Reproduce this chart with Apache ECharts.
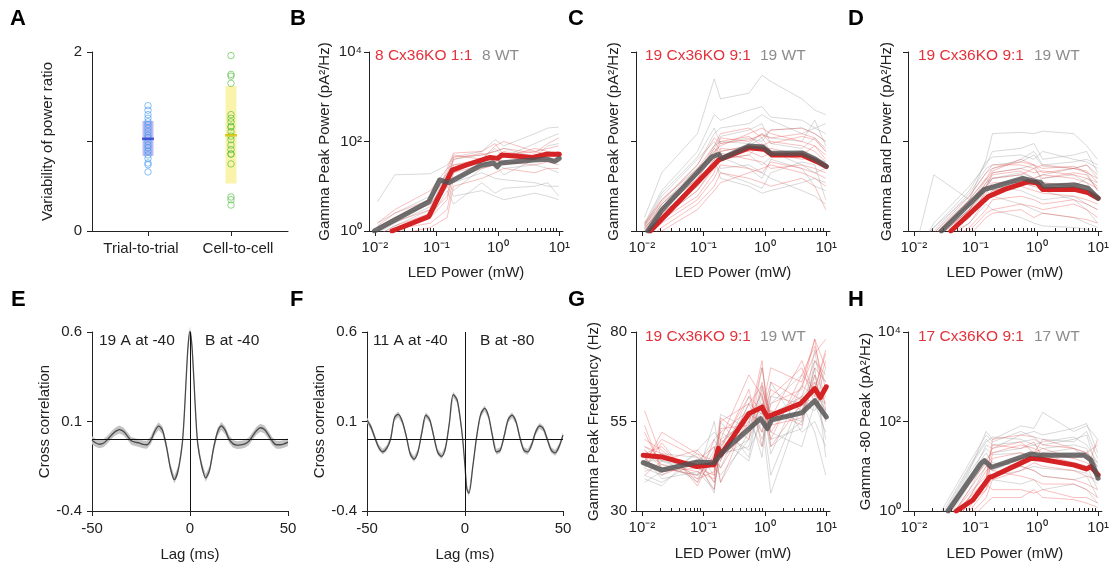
<!DOCTYPE html>
<html><head><meta charset="utf-8">
<script src="https://cdn.jsdelivr.net/npm/echarts@6/dist/echarts.min.js"></script>
<style>html,body{margin:0;padding:0;background:#fff}#c{width:1112px;height:567px}</style>
</head><body><div id="c"></div>
<script>
// ---------------- DATA ----------------
// Panel A
const aCats = ['Trial-to-trial', 'Cell-to-cell'];
const aTrial = [1.40,1.35,1.30,1.26,1.22,1.19,1.15,1.11,1.07,1.04,1.00,0.96,0.93,0.89,0.85,0.81,0.76,0.74,0.66];
const aCell = [1.96,1.75,1.73,1.65,1.30,1.26,1.22,1.17,1.16,1.11,1.06,1.02,0.96,0.91,0.86,0.86,0.75,0.38,0.35,0.29];
const aTrialBar = [0.84, 1.23];
const aTrialMean = 1.03;
const aCellBar = [0.53, 1.62];
const aCellMean = 1.07;
const aYTicks = [0, 1, 2];
const aYLabels = [0, 2];

// Common LED power grid for individual cells
const indivX = [0.011, 0.021, 0.08, 0.15, 0.19, 0.55, 0.9, 1.25, 4, 6.5, 9.8];
const xMajor = [0.01, 0.1, 1, 10];
const xMinor = [0.02,0.03,0.04,0.05,0.06,0.07,0.08,0.09,0.2,0.3,0.4,0.5,0.6,0.7,0.8,0.9,2,3,4,5,6,7,8,9];
const logYTicks = [1, 100, 10000];

// Panel B
const bWT = [
  [4.5, 18, 19, 30, 45, 60, 110, 80, 150, 200, 210],
  [1.5, 2.5, 6, 15, 20, 40, 70, 45, 90, 120, 150],
  [1.0, 1.8, 4, 12, 8, 25, 30, 18, 40, 60, 55],
  [0.8, 1.3, 3, 25, 30, 35, 40, 25, 30, 25, 20],
  [0.6, 1.0, 2, 8, 4, 12, 7, 9, 10, 12, 6],
  [1.2, 2, 5, 20, 12, 20, 15, 14, 12, 10, 10],
  [0.9, 1.5, 3.5, 18, 40, 50, 60, 70, 45, 80, 90],
  [0.5, 0.8, 2.5, 10, 6, 8, 6, 5, 7, 6, 5]
];
const bKO = [
  [1.5, 3, 8, 25, 55, 60, 90, 50, 60, 50, 45],
  [1.2, 2, 4, 12, 45, 50, 60, 70, 55, 90, 120],
  [0.8, 1.3, 2.5, 6, 30, 40, 45, 30, 40, 40, 35],
  [1.0, 1.6, 3, 10, 40, 55, 35, 45, 70, 60, 50],
  [0.6, 1.0, 2, 5, 20, 30, 40, 60, 45, 50, 60],
  [0.7, 1.1, 1.5, 3, 15, 25, 30, 35, 30, 35, 30],
  [1.3, 2.5, 5, 20, 50, 40, 80, 100, 60, 70, 80],
  [0.5, 0.8, 1.2, 2, 10, 15, 20, 25, 20, 25, 25]
];
const bWTMeanX = [0.0098, 0.075, 0.113, 0.158, 0.52, 0.85, 0.98, 1.1, 3.8, 6.5, 8.4, 10];
const bWTMeanY = [1.0, 4.5, 13.8, 12, 29, 33, 27.3, 33, 38.6, 40, 36, 42];
const bKOMeanX = [0.019, 0.075, 0.18, 0.31, 0.75, 1.0, 1.16, 3.7, 6.2, 10];
const bKOMeanY = [1.0, 2.1, 23, 30, 44, 42, 50, 44, 52, 52];

// Panel C
const cWT = [
  [2, 20, 150, 2500, 900, 1200, 3000, 2200, 900, 500, 400],
  [1.5, 8, 60, 400, 300, 500, 600, 350, 300, 200, 150],
  [1.2, 5, 30, 150, 200, 250, 400, 300, 150, 200, 250],
  [0.8, 3, 20, 80, 100, 90, 150, 120, 100, 300, 80],
  [1.0, 4, 25, 60, 40, 50, 30, 45, 60, 40, 35],
  [0.7, 2, 12, 40, 15, 10, 7, 8, 12, 15, 12],
  [1.3, 6, 40, 100, 60, 80, 120, 60, 30, 20, 25],
  [0.9, 3, 15, 50, 25, 30, 20, 15, 8, 6, 4],
  [1.1, 4, 20, 70, 130, 180, 250, 90, 70, 120, 60],
  [0.6, 2, 8, 30, 45, 25, 15, 40, 25, 10, 8],
  [1.4, 7, 45, 200, 90, 120, 100, 180, 200, 150, 100],
  [0.8, 2.5, 10, 35, 20, 12, 9, 20, 35, 30, 5]
];
const cKO = [
  [1.5, 5, 25, 80, 150, 200, 120, 180, 200, 150, 100],
  [1.2, 3, 15, 50, 120, 100, 150, 90, 130, 110, 60],
  [1.0, 2.5, 10, 30, 60, 80, 60, 70, 50, 80, 40],
  [0.8, 2, 8, 25, 40, 50, 90, 45, 60, 40, 30],
  [0.7, 1.5, 5, 15, 30, 25, 20, 35, 25, 20, 15],
  [1.3, 4, 20, 60, 80, 150, 200, 150, 100, 80, 50],
  [0.6, 1.2, 4, 10, 20, 15, 12, 10, 15, 10, 3],
  [0.9, 2.2, 12, 40, 100, 130, 80, 100, 80, 60, 35],
  [1.1, 3.5, 18, 70, 55, 40, 35, 25, 30, 25, 20],
  [0.5, 1.0, 3, 8, 12, 20, 25, 30, 20, 15, 10],
  [1.4, 4.5, 30, 120, 90, 110, 140, 120, 150, 120, 70],
  [0.8, 1.8, 6, 20, 70, 60, 45, 55, 40, 45, 25]
];
const cWTMeanX = [0.0125, 0.021, 0.139, 0.178, 0.2, 0.55, 0.94, 1.24, 4.1, 6.7, 10];
const cWTMeanY = [1.0, 2.9, 45.6, 52, 42, 79, 75, 54.6, 55, 40, 28];
const cKOMeanX = [0.0137, 0.178, 0.55, 0.98, 1.31, 4, 7.2, 10];
const cKOMeanY = [1.0, 38.6, 72, 67, 50, 50, 35, 27.5];

// Panel D
const dWT = [
  [0.5, 18, 5, 40, 150, 160, 150, 170, 150, 80, 40],
  [0.3, 1.5, 10, 30, 60, 70, 90, 40, 50, 60, 20],
  [0.4, 1.2, 6, 20, 25, 40, 60, 30, 35, 40, 30],
  [0.3, 0.8, 4, 12, 15, 20, 15, 18, 25, 20, 8],
  [0.2, 0.6, 3, 10, 20, 25, 30, 12, 10, 15, 12],
  [0.3, 0.9, 5, 15, 10, 8, 6, 5, 6, 4, 3],
  [0.2, 0.5, 2, 6, 8, 12, 10, 8, 5, 3, 1.5],
  [0.4, 1.0, 7, 25, 30, 35, 50, 28, 25, 30, 15],
  [0.3, 0.7, 3, 8, 6, 4, 3, 2.5, 2, 1.5, 1.2],
  [0.2, 0.5, 2.5, 9, 15, 18, 12, 15, 18, 12, 6],
  [0.5, 1.2, 8, 35, 45, 50, 40, 60, 40, 35, 25],
  [0.3, 0.6, 1.5, 4, 3, 2, 1.5, 1.3, 1.2, 1.1, 0.8]
];
const dKO = [
  [0.3, 0.8, 5, 15, 25, 35, 30, 25, 28, 20, 15],
  [0.2, 0.6, 3, 12, 20, 25, 20, 22, 18, 15, 10],
  [0.3, 0.7, 4, 10, 15, 18, 25, 15, 20, 18, 8],
  [0.2, 0.5, 2, 8, 10, 15, 12, 10, 12, 10, 6],
  [0.1, 0.4, 1.5, 5, 8, 10, 8, 7, 6, 5, 4],
  [0.3, 0.9, 6, 20, 30, 30, 25, 30, 25, 22, 12],
  [0.2, 0.4, 1.2, 3, 5, 6, 5, 4, 5, 4, 3],
  [0.2, 0.6, 3, 10, 18, 22, 15, 18, 15, 12, 9],
  [0.1, 0.3, 1.0, 2.5, 3, 4, 3.5, 3, 4, 3, 2],
  [0.3, 0.8, 4, 14, 22, 40, 30, 20, 25, 30, 18],
  [0.2, 0.5, 2.5, 7, 12, 12, 10, 12, 10, 8, 5],
  [0.1, 0.3, 0.8, 2, 2.5, 3, 2, 2.5, 2, 1.8, 1.5]
];
const dWTMeanX = [0.028, 0.14, 0.19, 0.59, 1.17, 1.3, 4.1, 6.8, 10];
const dWTMeanY = [1.0, 8.5, 9.5, 15, 12, 10, 10.7, 9, 5.4];
const dKOMeanX = [0.04, 0.16, 0.3, 0.71, 1.0, 1.24, 4.1, 6.8, 10];
const dKOMeanY = [1.0, 5.8, 8.5, 12.6, 12, 8.5, 8.5, 7.2, 5.4];

// Panel E / F (cross correlation)
const ccYTicks = [-0.4, 0.1, 0.6];
const eLag = [-50,-48,-46,-44,-42,-40,-38,-36,-34,-32,-30,-28,-26,-24,-22,-20,-18,-16,-14,-12,-10,-8,-6,-4,-3,-2,-1,0,1,2,3,4,6,8,10,12,14,16,18,20,22,24,26,28,30,32,34,36,38,40,42,44,46,48,50];
const eVal = [-0.005,-0.02,-0.027,-0.02,0.0,0.025,0.045,0.055,0.045,0.02,-0.008,-0.015,-0.02,-0.028,-0.03,-0.005,0.045,0.074,0.05,-0.04,-0.16,-0.225,-0.17,-0.03,0.12,0.33,0.52,0.61,0.52,0.33,0.12,-0.03,-0.15,-0.215,-0.17,-0.05,0.04,0.075,0.05,0.0,-0.025,-0.032,-0.03,-0.025,-0.01,0.02,0.05,0.065,0.055,0.025,-0.01,-0.03,-0.03,-0.025,-0.015];
const eBand = 0.022;
const fLag = [-50,-48,-46,-44,-42,-40,-38,-36,-34,-32,-30,-28,-26,-24,-22,-20,-18,-16,-14,-12,-10,-8,-6,-4,-2,-1,0,1,2,4,6,8,10,12,14,16,18,20,22,24,26,28,30,32,34,36,38,40,42,44,46,48,50];
const fVal = [0.107,0.07,0.01,-0.045,-0.069,-0.05,0.0,0.12,0.14,0.1,0.02,-0.08,-0.11,-0.07,0.04,0.135,0.11,0.02,-0.07,-0.095,-0.05,0.09,0.25,0.22,0.08,-0.02,-0.15,-0.28,-0.30,-0.15,0.02,0.14,0.173,0.13,0.02,-0.07,-0.06,0.02,0.11,0.135,0.1,0.01,-0.06,-0.07,-0.03,0.04,0.075,0.06,0.0,-0.06,-0.075,-0.04,0.024];
const fBand = 0.016;

// Panel G
const gYTicks = [30, 55, 80];
const gWT = [
  [44, 42, 40, 55, 45, 50, 60, 48, 55, 70, 45],
  [40, 38, 44, 35, 50, 55, 48, 62, 60, 58, 65],
  [46, 44, 42, 48, 38, 52, 58, 40, 62, 66, 50],
  [42, 40, 46, 40, 55, 45, 65, 52, 48, 60, 70],
  [48, 45, 38, 45, 42, 60, 50, 58, 55, 75, 55],
  [38, 41, 43, 50, 46, 48, 62, 46, 65, 62, 60],
  [45, 39, 41, 36, 48, 58, 45, 66, 52, 55, 48],
  [43, 46, 45, 42, 40, 50, 70, 55, 58, 68, 62],
  [41, 43, 39, 47, 52, 47, 55, 35, 60, 52, 40],
  [47, 42, 44, 38, 44, 62, 52, 60, 68, 64, 58],
  [39, 37, 47, 52, 50, 44, 58, 50, 53, 72, 66],
  [44, 44, 40, 44, 57, 53, 64, 57, 62, 60, 52]
];
const gKO = [
  [48, 46, 42, 40, 55, 60, 65, 55, 62, 72, 68],
  [44, 50, 45, 38, 48, 62, 58, 70, 66, 78, 70],
  [52, 42, 40, 45, 42, 55, 72, 48, 60, 64, 75],
  [46, 48, 38, 50, 52, 58, 52, 62, 70, 60, 62],
  [40, 44, 47, 42, 45, 52, 60, 58, 54, 68, 55],
  [58, 45, 43, 36, 50, 68, 62, 52, 65, 74, 78],
  [45, 40, 44, 48, 38, 57, 55, 64, 58, 66, 60],
  [50, 47, 39, 41, 56, 50, 66, 56, 72, 62, 72],
  [43, 52, 46, 44, 47, 64, 48, 60, 64, 78, 58],
  [47, 43, 41, 39, 53, 54, 70, 54, 56, 70, 66],
  [42, 49, 37, 46, 44, 60, 57, 66, 61, 64, 74],
  [54, 41, 42, 43, 49, 56, 63, 50, 68, 76, 64]
];
const gWTMeanX = [0.0105, 0.021, 0.08, 0.15, 0.2, 0.85, 1.1, 1.3, 4, 6.5, 10];
const gWTMeanY = [43.5, 41.4, 43.7, 43.5, 46.3, 55.8, 53, 55.5, 57.4, 60.8, 56.3];
const gKOMeanX = [0.0105, 0.021, 0.079, 0.15, 0.175, 0.19, 0.55, 0.9, 1.1, 3.8, 6.5, 8, 10];
const gKOMeanY = [45.6, 45.1, 42.4, 43, 47.5, 45.6, 57.2, 59, 56.3, 60, 64.2, 61.7, 64.7];

// Panel H
const hWT = [
  [0.1, 0.3, 8, 60, 40, 80, 70, 160, 60, 80, 40],
  [0.1, 0.2, 5, 30, 25, 50, 60, 50, 70, 90, 20],
  [0.1, 0.4, 10, 40, 30, 35, 40, 30, 40, 50, 8],
  [0.1, 0.2, 3, 15, 20, 25, 30, 25, 30, 25, 5],
  [0.1, 0.1, 2, 10, 8, 15, 20, 15, 12, 10, 3],
  [0.1, 0.3, 6, 20, 12, 10, 8, 6, 5, 6, 2],
  [0.1, 0.15, 1.5, 5, 6, 8, 10, 9, 8, 7, 4],
  [0.1, 0.5, 12, 50, 35, 60, 45, 40, 35, 60, 15],
  [0.1, 0.2, 4, 12, 5, 4, 5, 3, 4, 3, 1.5],
  [0.1, 0.25, 7, 25, 18, 20, 15, 20, 25, 20, 10],
  [0.1, 0.35, 9, 35, 45, 40, 30, 35, 45, 30, 12]
];
const hKO = [
  [0.1, 0.2, 1.5, 5, 40, 50, 45, 30, 25, 20, 30],
  [0.1, 0.15, 1, 3, 20, 30, 25, 20, 15, 12, 8],
  [0.1, 0.3, 2, 8, 10, 15, 20, 40, 25, 15, 10],
  [0.1, 0.1, 0.8, 2, 5, 8, 12, 10, 8, 6, 5],
  [0.1, 0.2, 3, 10, 8, 6, 5, 4, 4, 3, 2],
  [0.1, 0.25, 2.5, 6, 30, 25, 35, 15, 10, 8, 40],
  [0.1, 0.1, 1.2, 4, 3, 3, 2.5, 3, 2, 2, 1.5],
  [0.1, 0.2, 2, 5, 15, 20, 15, 18, 12, 10, 6],
  [0.1, 0.15, 1.5, 3, 6, 10, 8, 6, 5, 4, 3],
  [0.1, 0.3, 4, 12, 25, 35, 20, 25, 15, 20, 12],
  [0.1, 0.1, 0.6, 1.5, 2, 2, 3, 2, 1.8, 1.5, 1.2]
];
const hWTMeanX = [0.036, 0.124, 0.14, 0.185, 0.8, 1.2, 5.9, 7.6, 10];
const hWTMeanY = [1.0, 11.6, 13.3, 9.5, 18.8, 17.5, 17.9, 13.8, 5.4];
const hKOMeanX = [0.049, 0.091, 0.17, 0.19, 0.8, 1.2, 4.1, 6.4, 7.6, 10];
const hKOMeanY = [1.0, 1.76, 5.7, 5.9, 15, 14.3, 10.6, 8.7, 9.8, 6.4];

// ---------------- STYLE / BUILD ----------------
const FONT = "'Liberation Sans', Arial, Helvetica, sans-serif";
const INK = '#222';
const RED_TXT = '#e3323b', GRAY_TXT = '#8c8c8c';
const WT_THIN = 'rgba(150,150,150,0.36)', KO_THIN = 'rgba(232,80,80,0.36)';
const WT_MEAN = 'rgba(80,80,80,0.82)', KO_MEAN = '#d42225';
const X_MIN = 0.008, X_MAX = 11.5;

function merge(a, b) {
  const o = Object.assign({}, a);
  for (const k in b) {
    const v = b[k];
    if (v && typeof v === 'object' && !Array.isArray(v) && o[k] && typeof o[k] === 'object' && !Array.isArray(o[k])) o[k] = merge(o[k], v);
    else o[k] = v;
  }
  return o;
}
function baseAxis(extra) {
  return merge({
    axisLine: {show: true, onZero: false, lineStyle: {color: INK, width: 1}},
    axisTick: {show: true, length: 5, lineStyle: {color: INK, width: 1}},
    axisLabel: {color: INK, fontSize: 15, fontFamily: FONT},
    splitLine: {show: false},
    nameLocation: 'middle',
    nameTextStyle: {color: INK, fontSize: 15, fontFamily: FONT}
  }, extra || {});
}
const SUP = {'-': '\u207B', '0': '\u2070', '1': '\u00B9', '2': '\u00B2', '3': '\u00B3', '4': '\u2074'};
const pow10Label = v => '10' + String(Math.round(Math.log10(v))).split('').map(c => SUP[c]).join('');

const grids = [], xAxis = [], yAxis = [], series = [], graphic = [];

function letter(t, x, y) {
  graphic.push({type: 'text', z: 100, left: x, top: y, style: {text: t, fill: '#000', font: 'bold 22px ' + FONT}});
}
function txt(t, x, y, color) {
  graphic.push({type: 'text', z: 100, left: x, top: y, style: {text: t, fill: color, font: '15.5px ' + FONT}});
}

function logPanel(p) {
  const gi = grids.length; grids.push(p.grid);
  const xi = xAxis.length;
  xAxis.push(baseAxis({type: 'log', logBase: 10, gridIndex: gi, min: X_MIN, max: X_MAX, position: 'bottom',
    name: 'LED Power (mW)', nameGap: p.xNameGap,
    axisTick: {customValues: xMajor}, axisLabel: {customValues: xMajor, formatter: pow10Label, margin: 9}}));
  xAxis.push({type: 'log', logBase: 10, gridIndex: gi, min: X_MIN, max: X_MAX, position: 'bottom',
    axisLine: {show: false, onZero: false}, splitLine: {show: false}, axisLabel: {show: false},
    axisTick: {show: true, inside: true, length: 3, customValues: xMinor, lineStyle: {color: INK, width: 1}}});
  const yi = yAxis.length;
  yAxis.push(baseAxis(merge({gridIndex: gi, name: p.yName, nameGap: p.yNameGap}, p.y)));
  const mk = (xs, ys) => xs.map((x, i) => [x, ys[i]]);
  p.wt.forEach(arr => series.push({type: 'line', xAxisIndex: xi, yAxisIndex: yi, data: mk(indivX, arr),
    symbol: 'none', silent: true, lineStyle: {color: WT_THIN, width: 1}, z: 2}));
  p.ko.forEach(arr => series.push({type: 'line', xAxisIndex: xi, yAxisIndex: yi, data: mk(indivX, arr),
    symbol: 'none', silent: true, lineStyle: {color: KO_THIN, width: 1}, z: 2}));
  series.push({type: 'line', xAxisIndex: xi, yAxisIndex: yi, data: mk(p.koMX, p.koMY), symbol: 'none',
    lineStyle: {color: KO_MEAN, width: 5, join: 'round', cap: 'round'}, z: 3});
  series.push({type: 'line', xAxisIndex: xi, yAxisIndex: yi, data: mk(p.wtMX, p.wtMY), symbol: 'none',
    lineStyle: {color: WT_MEAN, width: 5, join: 'round', cap: 'round'}, z: 4});
  txt(p.koTxt, p.txtX[0], p.txtY, RED_TXT);
  txt(p.wtTxt, p.txtX[1], p.txtY, GRAY_TXT);
}

const logY = (labels) => ({type: 'log', logBase: 10, min: 1, max: 10000,
  axisTick: {customValues: logYTicks},
  axisLabel: labels ? {customValues: logYTicks, formatter: pow10Label, margin: 7} : {show: false}});

// ---- Panel A ----
(function () {
  const gi = grids.length; grids.push({left: 92, top: 52, width: 196, height: 179});
  const xi = xAxis.length;
  xAxis.push(baseAxis({type: 'value', gridIndex: gi, min: -0.675, max: 1.687,
    axisTick: {customValues: [0, 1]},
    axisLabel: {customValues: [0, 1], margin: 10,
      formatter: v => (Math.round(v) === 0 ? '{l|' : '{r|') + aCats[Math.round(v)] + '}',
      rich: {l: {fontSize: 15, color: INK, fontFamily: FONT, padding: [0, 14, 0, 0]},
             r: {fontSize: 15, color: INK, fontFamily: FONT, padding: [0, 0, 0, 14]}}}}));
  const yi = yAxis.length;
  yAxis.push(baseAxis({type: 'value', gridIndex: gi, min: 0, max: 2, name: 'Variability of power ratio', nameGap: 37,
    axisTick: {customValues: aYTicks}, axisLabel: {customValues: aYLabels, margin: 10}}));
  const barColors = ['rgba(115,115,225,0.48)', 'rgba(245,236,120,0.62)'];
  series.push({type: 'custom', xAxisIndex: xi, yAxisIndex: yi, z: 1,
    data: [[0, aTrialBar[0], aTrialBar[1]], [1, aCellBar[0], aCellBar[1]]],
    encode: {x: 0, y: [1, 2]},
    renderItem: (params, api) => {
      const x = api.value(0);
      const lo = api.coord([x, api.value(1)]), hi = api.coord([x, api.value(2)]);
      return {type: 'rect', shape: {x: lo[0] - 5.5, y: hi[1], width: 11, height: lo[1] - hi[1]},
        style: {fill: barColors[params.dataIndex]}};
    }});
  series.push({type: 'scatter', xAxisIndex: xi, yAxisIndex: yi, z: 2, data: aTrial.map(v => [0, v]),
    symbol: 'circle', symbolSize: 6.5, itemStyle: {color: 'rgba(0,0,0,0)', borderColor: 'rgba(60,150,240,0.75)', borderWidth: 1}});
  series.push({type: 'scatter', xAxisIndex: xi, yAxisIndex: yi, z: 2, data: aCell.map(v => [1, v]),
    symbol: 'circle', symbolSize: 6.5, itemStyle: {color: 'rgba(0,0,0,0)', borderColor: 'rgba(70,185,50,0.75)', borderWidth: 1}});
  series.push({type: 'scatter', xAxisIndex: xi, yAxisIndex: yi, z: 3, data: [[0, aTrialMean]],
    symbol: 'rect', symbolSize: [12, 2.5], itemStyle: {color: '#2b3fd0'}});
  series.push({type: 'scatter', xAxisIndex: xi, yAxisIndex: yi, z: 3, data: [[1, aCellMean]],
    symbol: 'rect', symbolSize: [12, 2.5], itemStyle: {color: '#d8c400'}});
})();

// ---- Panels B, C, D ----
logPanel({grid: {left: 369, top: 52, width: 194, height: 179}, xNameGap: 34,
  y: logY(true), yName: 'Gamma Peak Power (pA\u00B2/Hz)', yNameGap: 37,
  wt: bWT, ko: bKO, wtMX: bWTMeanX, wtMY: bWTMeanY, koMX: bKOMeanX, koMY: bKOMeanY,
  koTxt: '8 Cx36KO 1:1', wtTxt: '8 WT', txtX: [375, 482], txtY: 48});
logPanel({grid: {left: 636, top: 52, width: 194, height: 179}, xNameGap: 34,
  y: logY(false), yName: 'Gamma Peak Power (pA\u00B2/Hz)', yNameGap: 15,
  wt: cWT, ko: cKO, wtMX: cWTMeanX, wtMY: cWTMeanY, koMX: cKOMeanX, koMY: cKOMeanY,
  koTxt: '19 Cx36KO 9:1', wtTxt: '19 WT', txtX: [645, 760], txtY: 48});
logPanel({grid: {left: 908, top: 52, width: 194, height: 179}, xNameGap: 34,
  y: logY(false), yName: 'Gamma Band Power (pA\u00B2/Hz)', yNameGap: 14,
  wt: dWT, ko: dKO, wtMX: dWTMeanX, wtMY: dWTMeanY, koMX: dKOMeanX, koMY: dKOMeanY,
  koTxt: '19 Cx36KO 9:1', wtTxt: '19 WT', txtX: [918, 1034], txtY: 48});

// ---- Panels E, F ----
function ccPanel(grid, lags, vals, band, tl, tr, tx) {
  const gi = grids.length; grids.push(grid);
  const xi = xAxis.length;
  xAxis.push(baseAxis({type: 'value', gridIndex: gi, min: -50, max: 50, interval: 50, name: 'Lag (ms)', nameGap: 36,
    axisLabel: {margin: 10}}));
  const yi = yAxis.length;
  yAxis.push(baseAxis({type: 'value', gridIndex: gi, min: -0.4, max: 0.6, name: 'Cross correlation', nameGap: 36,
    axisTick: {customValues: ccYTicks}, axisLabel: {customValues: ccYTicks, formatter: v => v.toFixed(1), margin: 10}}));
  // shaded error band as one polygon, positioned through the axes
  series.push({type: 'custom', xAxisIndex: xi, yAxisIndex: yi, z: 1, silent: true,
    data: lags.map((l, i) => [l, vals[i] - band, vals[i] + band]),
    encode: {x: 0, y: [1, 2]},
    renderItem: (params, api) => {
      if (params.dataIndex !== 0) return null;
      const up = lags.map((l, i) => api.coord([l, vals[i] + band]));
      const lo = lags.map((l, i) => api.coord([l, vals[i] - band])).reverse();
      return {type: 'polygon', shape: {points: up.concat(lo)}, style: {fill: '#c3c3c3'}};
    }});
  series.push({type: 'line', xAxisIndex: xi, yAxisIndex: yi, symbol: 'none', smooth: 0.3,
    data: lags.map((l, i) => [l, vals[i]]), lineStyle: {color: '#4a4a4a', width: 1.3}, z: 2,
    markLine: {silent: true, symbol: ['none', 'none'], label: {show: false},
      lineStyle: {color: '#111', type: 'solid', width: 1}, data: [{xAxis: 0}, {yAxis: 0}]}});
  txt(tl, tx[0], 333, INK);
  txt(tr, tx[1], 333, INK);
}
ccPanel({left: 92, top: 332, width: 196, height: 179}, eLag, eVal, eBand, '19 A at -40', 'B at -40', [99, 205]);
ccPanel({left: 367, top: 332, width: 196, height: 179}, fLag, fVal, fBand, '11 A at -40', 'B at -80', [373, 480]);

// ---- Panels G, H ----
logPanel({grid: {left: 636, top: 332, width: 194, height: 179}, xNameGap: 35,
  y: {type: 'value', min: 30, max: 80, axisTick: {customValues: gYTicks}, axisLabel: {customValues: gYTicks, margin: 9}},
  yName: 'Gamma Peak Frequency (Hz)', yNameGap: 35,
  wt: gWT, ko: gKO, wtMX: gWTMeanX, wtMY: gWTMeanY, koMX: gKOMeanX, koMY: gKOMeanY,
  koTxt: '19 Cx36KO 9:1', wtTxt: '19 WT', txtX: [645, 760], txtY: 329});
logPanel({grid: {left: 908, top: 332, width: 194, height: 179}, xNameGap: 35,
  y: logY(true), yName: 'Gamma -80 Peak (pA\u00B2/Hz)', yNameGap: 35,
  wt: hWT, ko: hKO, wtMX: hWTMeanX, wtMY: hWTMeanY, koMX: hKOMeanX, koMY: hKOMeanY,
  koTxt: '17 Cx36KO 9:1', wtTxt: '17 WT', txtX: [918, 1034], txtY: 329});

letter('A', 10, 8); letter('B', 290, 8); letter('C', 568, 8); letter('D', 848, 8);
letter('E', 11, 289); letter('F', 290, 289); letter('G', 568, 289); letter('H', 848, 289);

const chart = echarts.init(document.getElementById('c'), null, {renderer: 'canvas'});
chart.setOption({animation: false, backgroundColor: '#fff', textStyle: {fontFamily: FONT},
  grid: grids, xAxis: xAxis, yAxis: yAxis, series: series, graphic: graphic});
</script></body></html>
